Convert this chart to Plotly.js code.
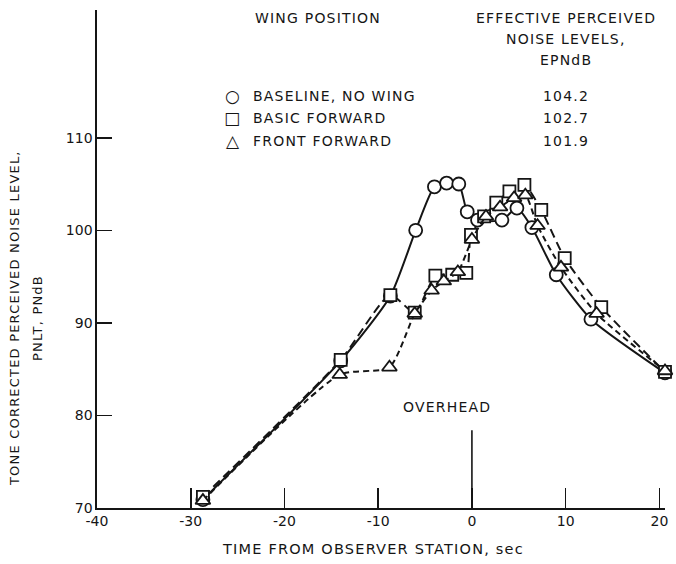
<!DOCTYPE html>
<html>
<head>
<meta charset="utf-8">
<script src="https://cdn.plot.ly/plotly-3.0.1.min.js"></script>
<style>html,body{margin:0;padding:0;background:#fff;}#chart{width:676px;height:564px;}
.annotation-text{letter-spacing:1.2px;}</style>
</head>
<body>
<div id="chart"></div>
<script>
// Time from observer station, sec ; PNLT, PNdB
const baselineTime = [-28.7, -14.0, -8.7, -6.0, -4.0, -2.7, -1.4, -0.5, 0.6, 3.2, 4.8, 6.4, 9.0, 12.7, 20.6];
const baselinePNLT = [70.9, 85.9, 92.9, 100.0, 104.7, 105.1, 105.0, 102.0, 101.1, 101.1, 102.4, 100.3, 95.2, 90.4, 84.6];

const basicTime = [-28.7, -14.0, -8.7, -6.1, -3.9, -2.1, -0.6, -0.1, 1.3, 2.6, 4.0, 5.6, 7.4, 9.9, 13.8, 20.6];
const basicPNLT = [71.2, 86.0, 93.0, 91.1, 95.1, 95.2, 95.4, 99.5, 101.5, 103.0, 104.2, 104.9, 102.2, 97.0, 91.7, 84.7];

const frontTime = [-28.7, -14.1, -8.8, -6.1, -4.3, -3.0, -1.5, 0.0, 1.5, 3.0, 4.5, 5.7, 7.0, 9.5, 13.3, 20.6];
const frontPNLT = [70.8, 84.4, 85.2, 91.0, 93.5, 94.5, 95.5, 99.0, 101.5, 102.5, 103.5, 103.8, 100.5, 96.0, 91.0, 84.8];

const seriesNames = ["BASELINE, NO WING", "BASIC FORWARD", "FRONT FORWARD"];
const seriesSymbols = ["○", "□", "△"];
const epndbValues = ["104.2", "102.7", "101.9"];

const xTicks = [-40, -30, -20, -10, 0, 10, 20];
const yTicks = [70, 80, 90, 100, 110];

const FONT = "'DejaVu Sans', 'Liberation Sans', sans-serif";
const INK = "#151515";

function mk(sym, size) {
  return {symbol: sym, size: size, color: "#ffffff", line: {color: INK, width: 1.8}};
}

const traces = [
  {x: baselineTime, y: baselinePNLT, mode: "lines+markers", name: seriesNames[0], cliponaxis: false,
   line: {color: INK, width: 2, shape: "spline", smoothing: 0.6}, marker: mk("circle", 13)},
  {x: basicTime, y: basicPNLT, mode: "lines+markers", name: seriesNames[1], cliponaxis: false,
   line: {color: INK, width: 2, dash: "9px,5px", shape: "spline", smoothing: 0.6}, marker: mk("square", 12)},
  {x: frontTime, y: frontPNLT, mode: "lines+markers", name: seriesNames[2], cliponaxis: false,
   line: {color: INK, width: 2, dash: "6px,4px", shape: "spline", smoothing: 0.6}, marker: mk("triangle-up", 13)}
];

// plot area: x -40 at px 97, 9.38 px per sec; y 70 at px 508, 9.25 px per dB
const PX0 = 97, PW = 568.4, PY0 = 508, PH = 498;
const annotations = [
  {text: "WING POSITION", x: 318, y: 18},
  {text: "EFFECTIVE PERCEIVED", x: 566, y: 18},
  {text: "NOISE LEVELS,", x: 566, y: 39},
  {text: "EPNdB", x: 566, y: 60}
].map(a => ({xref: "paper", yref: "paper", x: (a.x - PX0) / PW, y: (PY0 - a.y) / PH,
  xanchor: "center", yanchor: "middle", text: a.text, showarrow: false,
  font: {family: FONT, size: 14, color: INK}}));

const rowY = [96, 118, 141];
seriesNames.forEach((n, i) => {
  const py = (PY0 - rowY[i]) / PH;
  annotations.push({xref: "paper", yref: "paper", x: (233 - PX0) / PW, y: py, xanchor: "center", yanchor: "middle",
    text: seriesSymbols[i], showarrow: false, font: {family: "DejaVu Sans", size: 17, color: INK}});
  annotations.push({xref: "paper", yref: "paper", x: (251 - PX0) / PW, y: py, xanchor: "left", yanchor: "middle",
    text: n, showarrow: false, font: {family: FONT, size: 14, color: INK}});
  annotations.push({xref: "paper", yref: "paper", x: (566 - PX0) / PW, y: py, xanchor: "center", yanchor: "middle",
    text: epndbValues[i], showarrow: false, font: {family: FONT, size: 14, color: INK}});
});

annotations.push({xref: "x", yref: "y", x: -2.7, y: 80.9, xanchor: "center", yanchor: "middle",
  text: "OVERHEAD", showarrow: false, font: {family: FONT, size: 14, color: INK}});

annotations.push({xref: "paper", yref: "paper", x: (15 - PX0) / PW, y: (PY0 - 318) / PH, xanchor: "center", yanchor: "middle",
  textangle: -90, text: "TONE CORRECTED PERCEIVED NOISE LEVEL,", showarrow: false, font: {family: FONT, size: 13, color: INK}});
annotations.push({xref: "paper", yref: "paper", x: (38 - PX0) / PW, y: (PY0 - 318) / PH, xanchor: "center", yanchor: "middle",
  textangle: -90, text: "PNLT, PNdB", showarrow: false, font: {family: FONT, size: 13, color: INK}});

annotations.push({xref: "paper", yref: "paper", x: (373 - PX0) / PW, y: (PY0 - 549) / PH, xanchor: "center", yanchor: "middle",
  text: "TIME FROM OBSERVER STATION, sec", showarrow: false, font: {family: FONT, size: 14.5, color: INK}});

const layout = {
  width: 676, height: 564,
  margin: {l: 97, r: 10.6, t: 10, b: 56},
  paper_bgcolor: "#ffffff", plot_bgcolor: "#ffffff",
  showlegend: false,
  xaxis: {range: [-40, 20.6], tickvals: xTicks, ticktext: xTicks.map(String), showgrid: false, zeroline: false,
    showline: true, linecolor: INK, linewidth: 1.6, ticks: "inside", ticklen: 20, tickwidth: 1.6, tickcolor: INK,
    tickfont: {family: FONT, size: 14, color: INK}},
  yaxis: {range: [70, 123.8], tickvals: yTicks, ticktext: yTicks.map(String), showgrid: false, zeroline: false,
    showline: true, linecolor: INK, linewidth: 1.6, ticks: "inside", ticklen: 15, tickwidth: 1.6, tickcolor: INK,
    tickfont: {family: FONT, size: 14, color: INK}},
  shapes: [{type: "line", xref: "x", yref: "y", x0: 0, x1: 0, y0: 70, y1: 78.4, line: {color: INK, width: 1.6}}],
  annotations: annotations
};

Plotly.newPlot("chart", traces, layout, {displayModeBar: false, staticPlot: true});
</script>
</body>
</html>
